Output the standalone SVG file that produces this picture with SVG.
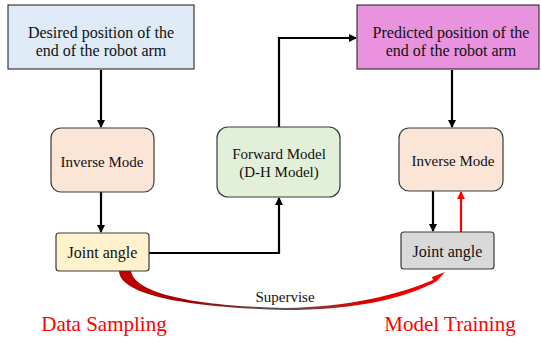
<svg xmlns="http://www.w3.org/2000/svg" width="541" height="339" viewBox="0 0 541 339">
<defs>
<style>
.box{stroke:#3a3a3a;stroke-width:1.2}
.t{fill:#111;text-anchor:middle}
.ln{fill:none;stroke:#000;stroke-width:2.2}
.red{fill:none;stroke:#ff0000;stroke-width:2.2}
</style>
<marker id="ah" markerWidth="8" markerHeight="8" refX="7" refY="4" orient="auto" markerUnits="userSpaceOnUse">
<path d="M0,0 L8,4 L0,8 Z" fill="#000"/>
</marker>
<marker id="ahr" markerWidth="8" markerHeight="8" refX="7" refY="4" orient="auto" markerUnits="userSpaceOnUse">
<path d="M0,0 L8,4 L0,8 Z" fill="#ff0000"/>
</marker>
<linearGradient id="sg" x1="118" y1="0" x2="447" y2="0" gradientUnits="userSpaceOnUse">
<stop offset="0" stop-color="#c00000"/>
<stop offset="0.2" stop-color="#a00000"/>
<stop offset="0.5" stop-color="#555555"/>
<stop offset="0.75" stop-color="#e00000"/>
<stop offset="1" stop-color="#ff0000"/>
</linearGradient>
</defs>
<rect width="541" height="339" fill="#fff"/>

<g id="connectors">
<line class="ln" x1="101" y1="70" x2="101" y2="127" marker-end="url(#ah)"/>
<line class="ln" x1="101" y1="192" x2="101" y2="232" marker-end="url(#ah)"/>
<polyline class="ln" points="149,253 279,253 279,198" marker-end="url(#ah)"/>
<polyline class="ln" points="279,127 279,38 356,38" marker-end="url(#ah)"/>
<line class="ln" x1="452" y1="70" x2="452" y2="127" marker-end="url(#ah)"/>
<line class="ln" x1="433" y1="191" x2="433" y2="231" marker-end="url(#ah)"/>
<line class="red" x1="461" y1="232" x2="461" y2="192" marker-end="url(#ahr)"/>
<path id="supervise" fill="url(#sg)" d="M119,271 C120,294 180,307 285,310 C350,310 400,300 431,284 L428,286 L437,281 L445,272 L432,277 L433,280 C400,294 350,307 285,308 C200,306 135,295 131,271 Z"/>
</g>

<g font-family="Liberation Serif, Times New Roman, serif">
<g id="desired">
<rect class="box" x="8" y="5" width="186" height="64" fill="#deebf7"/>
<text class="t" x="101" y="37.5" font-size="16">Desired position of the</text>
<text class="t" x="101" y="55.5" font-size="16">end of the robot arm</text>
</g>

<g id="predicted">
<rect class="box" x="357" y="5" width="182" height="64" fill="#e992de"/>
<text class="t" x="451" y="37.5" font-size="16">Predicted position of the</text>
<text class="t" x="451" y="55.5" font-size="16">end of the robot arm</text>
</g>

<g id="inverse1">
<rect class="box" x="51" y="128" width="103" height="64" rx="10" fill="#fbe5d6"/>
<text class="t" x="102" y="167" font-size="15">Inverse Mode</text>
</g>

<g id="forward">
<rect class="box" x="217" y="127" width="123" height="70" rx="11" fill="#e2f0d9"/>
<text class="t" x="279" y="158.5" font-size="15">Forward Model</text>
<text class="t" x="279" y="177" font-size="15">(D-H Model)</text>
</g>

<g id="inverse2">
<rect class="box" x="399" y="128" width="104" height="63" rx="10" fill="#fbe5d6"/>
<text class="t" x="453" y="166" font-size="15">Inverse Mode</text>
</g>

<g id="joint1">
<rect class="box" x="56" y="233" width="93" height="38" rx="3" fill="#fff2cc"/>
<text class="t" x="102.5" y="257.5" font-size="16">Joint angle</text>
</g>

<g id="joint2">
<rect class="box" x="401" y="232" width="93" height="37" rx="3" fill="#d9d9d9"/>
<text class="t" x="447.5" y="256.5" font-size="16">Joint angle</text>
</g>

<text class="t" x="285" y="302" font-size="15">Supervise</text>
<text class="t" x="104" y="331" font-size="21" style="fill:#ff0000">Data Sampling</text>
<text class="t" x="450" y="331" font-size="21" style="fill:#ff0000">Model Training</text>
</g>
</svg>
